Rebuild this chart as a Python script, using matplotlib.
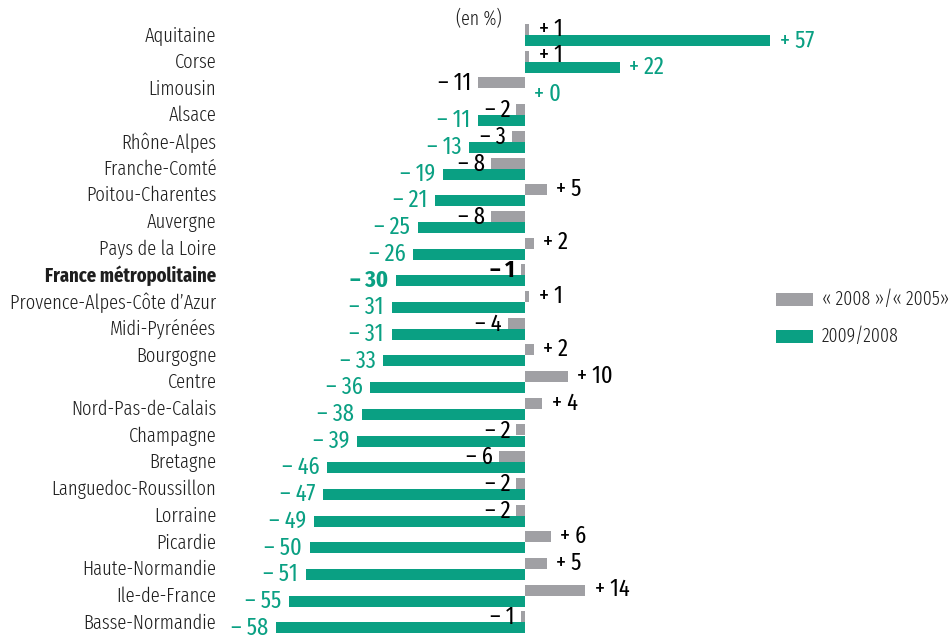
import matplotlib
matplotlib.use("Agg")
import matplotlib.pyplot as plt
from matplotlib.patches import Rectangle

FAM = ['Fira Sans Extra Condensed', 'DejaVu Sans']
plt.rcParams['font.family'] = FAM

regions = ["Aquitaine", "Corse", "Limousin", "Alsace", "Rhône-Alpes", "Franche-Comté",
           "Poitou-Charentes", "Auvergne", "Pays de la Loire", "France métropolitaine",
           "Provence-Alpes-Côte d’Azur", "Midi-Pyrénées", "Bourgogne", "Centre",
           "Nord-Pas-de-Calais", "Champagne", "Bretagne", "Languedoc-Roussillon",
           "Lorraine", "Picardie", "Haute-Normandie", "Ile-de-France", "Basse-Normandie"]
var_2008_2005 = [1, 1, -11, -2, -3, -8, 5, -8, 2, -1, 1, -4, 2, 10, 4, -2, -6, -2, -2, 6, 5, 14, -1]
var_2009_2008 = [57, 22, 0, -11, -13, -19, -21, -25, -26, -30, -31, -31, -33, -36, -38, -39,
                 -46, -47, -49, -50, -51, -55, -58]
legend_labels = ["« 2008 »/« 2005»", "2009/2008"]
bold_region = "France métropolitaine"

GREY = "#a0a0a4"
GREEN = "#0aa083"
TXT = "#1e1e1e"

W, H = 949, 635
fig = plt.figure(figsize=(W / 100, H / 100), dpi=100)
ax = fig.add_axes([0, 0, 1, 1])
ppu = 4.3  # pixels per unit
x0 = 525
ax.set_xlim(-x0 / ppu, (W - x0) / ppu)
rs = 26.7
ax.set_ylim((H - 35) / rs, -35 / rs)
ax.axis("off")

bh = 11 / rs
fs = 14.5
vfs = 17.5


def fmt(v):
    if v < 0:
        return "– %d" % (-v)
    return "+ %d" % v


for i, (name, g, v) in enumerate(zip(regions, var_2008_2005, var_2009_2008)):
    bold = name == bold_region
    lw = "bold" if bold else 300
    vw = "bold" if bold else "normal"
    ax.text(-71.8, i + 0.02, name, ha="right", va="center", fontsize=fs, fontweight=lw, color=TXT)
    ax.barh(i - bh / 2, g, height=bh, color=GREY, left=0)
    ax.barh(i + bh / 2, v, height=bh, color=GREEN, left=0)
    if g >= 0:
        ax.text(g + 2.2, i - bh / 2 - 0.02, fmt(g), ha="left", va="center", fontsize=vfs,
                color="black", fontweight=vw)
    else:
        ax.text(g - 1.4, i - bh / 2 + 0.03, fmt(g), ha="right", va="center", fontsize=vfs,
                color="black", fontweight=vw)
    if v >= 0:
        ax.text(v + 2.2, i + bh / 2 + 0.02, fmt(v), ha="left", va="center", fontsize=vfs,
                color=GREEN, fontweight=vw)
    else:
        ax.text(v - 1.8, i + bh / 2 + 0.0, fmt(v), ha="right", va="center", fontsize=vfs,
                color=GREEN, fontweight=vw)

ax.text((479 - x0) / ppu, (19 - 35) / rs, "(en %)", ha="center", va="center",
        fontsize=14, fontweight=300, color=TXT)

# legend
for k, (lab, col) in enumerate(zip(legend_labels, [GREY, GREEN])):
    yc = (299.5 + 37 * k - 35) / rs
    ax.add_patch(Rectangle(((776 - x0) / ppu, yc - 6.5 / rs), 37 / ppu, 13 / rs,
                           color=col, lw=0))
    ax.text((822 - x0) / ppu, yc, lab, ha="left", va="center", fontsize=14,
            fontweight=300, color=TXT)

fig.savefig("out.png", dpi=100)
